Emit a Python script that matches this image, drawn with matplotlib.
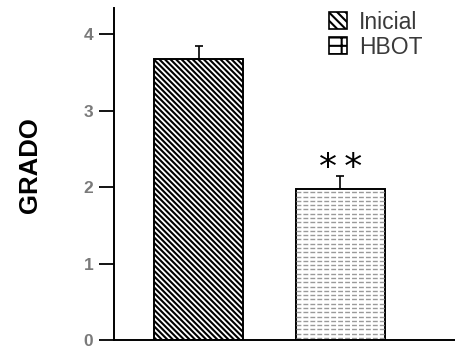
import matplotlib
matplotlib.use("Agg")
import matplotlib.pyplot as plt
from matplotlib.patches import Patch
import numpy as np

groups = ["Inicial", "HBOT"]
means = [3.68, 1.97]
errs = [0.16, 0.17]
yticks = [0, 1, 2, 3, 4]
ylabel = "GRADO"
signif = "*\u2009*"

plt.rcParams["font.family"] = ["Liberation Sans", "DejaVu Sans"]
plt.rcParams["hatch.linewidth"] = 1.5

fig = plt.figure(figsize=(4.55, 3.49), dpi=100)
ax = fig.add_axes([0.2505, 0.025, 0.7495, 0.952])

x = [0, 1]
width = 0.63

# bar 1: dense diagonal hatch
b1 = ax.bar(x[0], means[0], width=width, color="white", edgecolor="black",
            linewidth=1.4, hatch="\\" * 6, zorder=2)
# bar 2: white bar with grey dashed rows
b2 = ax.bar(x[1], means[1], width=width, color="white", edgecolor="black",
            linewidth=1.4, zorder=2)

rows = np.arange(0.03, means[1], 0.056)
hl = ax.hlines(rows, x[1] - width / 2, x[1] + width / 2, colors="#9a9a9a",
               linewidth=1.0, linestyles=(0, (3.5, 1.5)), zorder=2.5)
hl.set_clip_path(b2[0])

for i in range(2):
    ax.errorbar(x[i], means[i], yerr=[[0], [errs[i]]], fmt="none",
                ecolor="black", elinewidth=1.2, capsize=3, capthick=1.2, zorder=1)

ax.text(x[1], means[1] + errs[1] + 0.11, signif, ha="center", va="center",
        fontsize=26, family="DejaVu Sans", color="black")

ax.set_xlim(-0.60, 1.81)
ax.set_ylim(0, 4.34)
ax.set_yticks(yticks)
ax.set_yticklabels([str(t) for t in yticks], color="#7a7a7a", fontweight="bold",
                   fontsize=12.5)
ax.tick_params(axis="y", direction="out", length=11, width=1.3, pad=4)
ax.set_xticks([])
for s in ["top", "right"]:
    ax.spines[s].set_visible(False)
for s in ["left", "bottom"]:
    ax.spines[s].set_linewidth(1.4)

fig.text(0.066, 0.527, ylabel, rotation=90, ha="center", va="center",
         fontsize=18.5, fontweight="bold")

# legend proxies
h1 = Patch(facecolor="white", edgecolor="black", hatch="\\" * 4, linewidth=1.2)
h2 = Patch(facecolor="white", edgecolor="black", hatch="-+", linewidth=1.2)
leg = ax.legend([h1, h2], groups, loc="upper left", bbox_to_anchor=(0.605, 1.02),
                frameon=False, fontsize=16.5, handlelength=0.75, handleheight=0.75,
                handletextpad=0.55, labelspacing=0.1, borderaxespad=0)
for t in leg.get_texts():
    t.set_color("#3a3a3a")

fig.savefig("out.png", dpi=100)
